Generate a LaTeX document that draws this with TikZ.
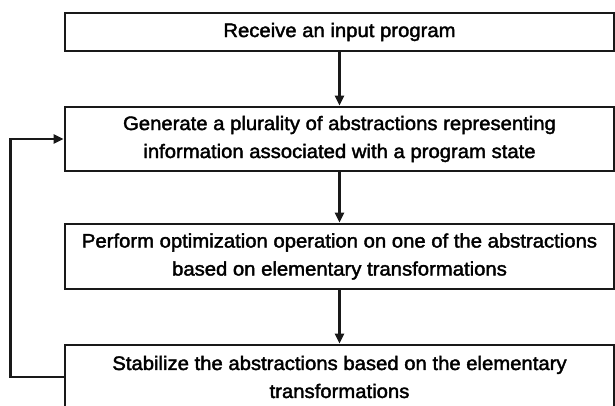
\documentclass[tikz,border=0pt]{standalone}
\usepackage{fontspec}
\setmainfont{Liberation Sans}
\newfontfamily\diagfont[FakeStretch=1.04,FakeBold=2]{Liberation Sans}
\usetikzlibrary{arrows.meta,positioning}
\begin{document}
\begin{tikzpicture}[x=1pt,y=1pt,
  box/.style={draw=black!90, line width=2.8pt, minimum width=549pt, align=center,
    font=\diagfont\fontsize{19.5}{28}\selectfont, inner sep=0pt},
  arr/.style={draw=black!90, line width=2.8pt, -{Triangle[length=10pt,width=9pt]}}]
\useasboundingbox (0,0) rectangle (615,405);
\fill[white] (0,0) rectangle (615,405);
\node[box, minimum height=38pt] (b1) at (339.5,373) {Receive an input program};
\node[box, minimum height=64pt] (b2) at (339.5,266) {Generate a plurality of abstractions representing\\information associated with a program state};
\node[box, minimum height=65pt] (b3) at (339.5,148.5) {Perform optimization operation on one of the abstractions\\based on elementary transformations};
\node[box, minimum height=64pt] (b4) at (339.5,28) {Stabilize the abstractions based on the elementary\\transformations};
\draw[arr] (b1) -- (b2);
\draw[arr] (b2) -- (b3);
\draw[arr] (b3) -- (b4);
\draw[arr] (b4.west) -- ++(-53,0) |- (b2.west);
\end{tikzpicture}
\end{document}
